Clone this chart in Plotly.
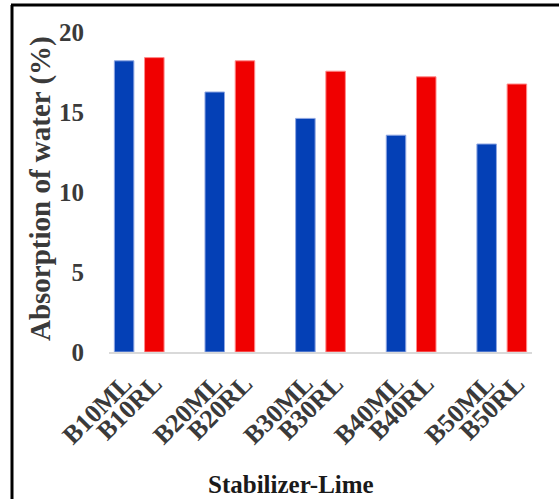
import plotly.graph_objects as go

# Water absorption (%) for each stabilizer-lime mix
mixes = ["B10", "B20", "B30", "B40", "B50"]
ml_values = [18.2, 16.25, 14.6, 13.55, 13.0]
rl_values = [18.4, 18.2, 17.55, 17.2, 16.75]
ml_labels = [m + "ML" for m in mixes]
rl_labels = [m + "RL" for m in mixes]
y_ticks = [0, 5, 10, 15, 20]

W, H = 559, 499
ML_L, ML_R, ML_T, ML_B = 109, 27, 32, 147
plot_w = W - ML_L - ML_R
plot_h = H - ML_T - ML_B

SERIF = "Liberation Serif, Times New Roman, serif"
TEXT = "#3a3a3a"

# each mix takes three slots: ML bar, RL bar, blank spacer
ml_x = [3 * i for i in range(len(mixes))]
rl_x = [3 * i + 1 for i in range(len(mixes))]
bar_w = 0.646


def px_to_paper_x(px):
    return (px - ML_L) / plot_w


def px_to_paper_y(py):
    return (H - ML_B - py) / plot_h


fig = go.Figure()
fig.add_trace(go.Bar(
    x=ml_x, y=ml_values, width=bar_w, name="ML",
    marker=dict(color="#0440B6", line=dict(color="#8EA6E2", width=1)),
))
fig.add_trace(go.Bar(
    x=rl_x, y=rl_values, width=bar_w, name="RL",
    marker=dict(color="#F00000", line=dict(color="#FF8A8A", width=1)),
))

tick_pos = sorted(ml_x + rl_x)
tick_txt = [lab for pair in zip(ml_labels, rl_labels) for lab in pair]

fig.update_layout(
    width=W, height=H,
    margin=dict(l=ML_L, r=ML_R, t=ML_T, b=ML_B, pad=0),
    paper_bgcolor="white", plot_bgcolor="white",
    barmode="overlay",
    showlegend=False,
    font=dict(family=SERIF, color=TEXT),
    xaxis=dict(
        range=[-0.5, 3 * len(mixes) - 1.5],
        tickmode="array", tickvals=tick_pos, ticktext=tick_txt,
        tickangle=-45,
        tickfont=dict(family=SERIF, size=26, color=TEXT, weight="bold"),
        ticks="", ticklabelstandoff=4,
        showgrid=False, zeroline=False,
        showline=True, linecolor="#D9D9D9", linewidth=2,
        layer="below traces",
    ),
    yaxis=dict(
        range=[0, 20],
        tickmode="array", tickvals=y_ticks,
        tickfont=dict(family=SERIF, size=25, color=TEXT, weight="bold"),
        ticks="", ticklabelstandoff=24,
        showgrid=False, zeroline=False, showline=False,
    ),
    annotations=[
        dict(
            text="Absorption of water (%)", textangle=-90,
            xref="paper", yref="paper",
            x=px_to_paper_x(40), y=px_to_paper_y(189),
            xanchor="center", yanchor="middle", showarrow=False,
            font=dict(family=SERIF, size=29, color=TEXT, weight="bold"),
        ),
        dict(
            text="Stabilizer-Lime",
            xref="paper", yref="paper",
            x=px_to_paper_x(291), y=px_to_paper_y(484),
            xanchor="center", yanchor="middle", showarrow=False,
            font=dict(family=SERIF, size=25, color="#1a1a1a", weight="bold"),
        ),
    ],
    shapes=[
        # outer frame (left and top edges)
        dict(type="line", xref="paper", yref="paper",
             x0=px_to_paper_x(12), x1=px_to_paper_x(12),
             y0=px_to_paper_y(5), y1=px_to_paper_y(H + 10),
             line=dict(color="black", width=3)),
        dict(type="line", xref="paper", yref="paper",
             x0=px_to_paper_x(11), x1=px_to_paper_x(W + 10),
             y0=px_to_paper_y(5), y1=px_to_paper_y(5),
             line=dict(color="black", width=3)),
    ],
)

fig.write_html("out.html")
